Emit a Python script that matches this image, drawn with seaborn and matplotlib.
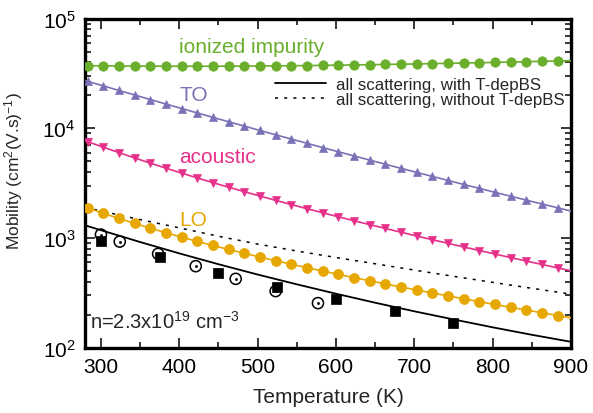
import numpy as np
import pandas as pd
import matplotlib
matplotlib.use("Agg")
import matplotlib.pyplot as plt
from matplotlib.lines import Line2D
from matplotlib.ticker import MultipleLocator, LogLocator, NullFormatter
import seaborn as sns

# ---------------- data ----------------
# temperatures of the model curves (line end points + marker positions)
T_curve = [280] + [283 + 20 * i for i in range(31)] + [900]

mu_ionized = [37200,
              37200, 37100, 37000, 36900, 36900, 36800, 36800, 36800, 36800, 36900,
              36900, 37000, 37100, 37200, 37300, 37500, 37600, 37800, 38000, 38200,
              38400, 38600, 38900, 39100, 39400, 39600, 39900, 40200, 40500, 40800,
              41100,
              41300]
mu_TO = [27200,
         26820, 24350, 22120, 20110, 18280, 16630, 15140, 13790, 12570, 11460,
         10460, 9546, 8720, 7970, 7289, 6668, 6105, 5592, 5123, 4699,
         4311, 3958, 3636, 3342, 3073, 2828, 2603, 2398, 2210, 2037,
         1880,
         1756]
mu_acoustic = [7680,
               7546, 6718, 5993, 5362, 4807, 4323, 3898, 3523, 3190, 2899,
               2640, 2408, 2200, 2014, 1846, 1694, 1557, 1434, 1321, 1219,
               1126, 1040, 963, 892, 826, 767, 712, 661, 615, 572,
               532,
               501]
mu_LO = [1909,
         1877, 1676, 1503, 1355, 1226, 1114, 1015, 928.9, 852.2, 784.1,
         723.3, 668.3, 619.3, 574.9, 534.6, 498.1, 464.5, 434.0, 406.1, 380.3,
         356.6, 334.7, 314.5, 295.6, 278.2, 261.9, 246.9, 232.8, 219.6, 207.4,
         195.7,
         186.4]

T_total = [280, 300, 350, 400, 450, 500, 550, 600, 650, 700, 750, 800, 850, 900]
mu_total_T = [1300, 1175, 916.6, 722.1, 575.1, 463.0, 377.0, 309.5, 256.2, 213.9,
              180.4, 152.8, 130.6, 112.7]
mu_total_noT = [1897, 1759, 1468, 1235, 1035, 878.1, 759.0, 662.1, 580.6, 508.2,
                446.2, 392.9, 346.8, 306.8]

T_exp_sq = [300, 375, 450, 525, 600, 675, 750]
mu_exp_sq = [933, 667, 477, 355, 278, 215, 167]
T_exp_circ = [300, 324, 373, 421, 472, 523, 577]
mu_exp_circ = [1072, 925, 715, 552, 423, 327, 254]

labels = ["ionized impurity", "TO", "acoustic", "LO"]
legend_labels = ["all scattering, with T-depBS", "all scattering, without T-depBS"]

# ---------------- style ----------------
sns.set_style("ticks")
plt.rcParams["font.family"] = ["Liberation Sans", "DejaVu Sans"]
plt.rcParams["mathtext.fontset"] = "custom"
plt.rcParams["mathtext.rm"] = "Liberation Sans"
plt.rcParams["mathtext.it"] = "Liberation Sans:italic"
plt.rcParams["mathtext.default"] = "regular"

c_green = "#6aae2c"
c_purple = "#7a72b6"
c_pink = "#e6308a"
c_orange = "#e6a700"

fig = plt.figure(figsize=(5.93, 4.14), dpi=100)
ax = fig.add_axes([0.1438, 0.1582, 0.8191, 0.7944])

curves = [
    (mu_ionized, c_green, "o", 6.8),
    (mu_TO, c_purple, "^", 6.0),
    (mu_acoustic, c_pink, "v", 6.0),
    (mu_LO, c_orange, "o", 7.2),
]
for vals, col, mk, ms in curves:
    df = pd.DataFrame({"T": T_curve, "mu": vals})
    sns.lineplot(data=df, x="T", y="mu", ax=ax, color=col, lw=1.2,
                 marker=mk, markersize=ms, markeredgecolor=col,
                 markeredgewidth=0.5, markevery=slice(1, -1), legend=False,
                 zorder=3)

df_tot = pd.DataFrame({"T": T_total, "with": mu_total_T, "without": mu_total_noT})
sns.lineplot(data=df_tot, x="T", y="with", ax=ax, color="black", lw=1.3,
             legend=False, zorder=2)
sns.lineplot(data=df_tot, x="T", y="without", ax=ax, color="black", lw=1.1,
             linestyle=(0, (2.0, 4.0)), legend=False, zorder=2)

sns.scatterplot(x=T_exp_sq, y=mu_exp_sq, ax=ax, marker="s", s=62,
                color="black", edgecolor="black", linewidth=0.5, zorder=4)
sns.scatterplot(x=T_exp_circ, y=mu_exp_circ, ax=ax, marker="o", s=64,
                facecolors="none", edgecolor="black", linewidth=1.1, zorder=4)
sns.scatterplot(x=T_exp_circ, y=mu_exp_circ, ax=ax, marker="o", s=3,
                color="black", edgecolor="black", linewidth=0.3, zorder=5)

ax.set_yscale("log")
ax.set_xlim(280, 900)
ax.set_ylim(100, 1e5)

ax.xaxis.set_major_locator(MultipleLocator(100))
ax.xaxis.set_minor_locator(MultipleLocator(50))
ax.yaxis.set_major_locator(LogLocator(base=10))
ax.yaxis.set_minor_locator(LogLocator(base=10, subs=np.arange(2, 10)))
ax.yaxis.set_minor_formatter(NullFormatter())

ax.tick_params(which="both", direction="in", top=True, right=True,
               labelsize=15, colors="black", width=1.1)
ax.tick_params(which="major", length=7, pad=7)
ax.tick_params(which="minor", length=4)
for sp in ax.spines.values():
    sp.set_visible(True)
    sp.set_linewidth(2.4)
    sp.set_color("black")

ax.set_xlabel("Temperature (K)", fontsize=15, labelpad=8)
ax.set_ylabel("Mobility (cm$^{2}$(V.s)$^{-1}$)", fontsize=12.5)
ax.yaxis.set_label_coords(-0.124, 0.54)

ax.text(400, 5.62e4, labels[0], color=c_green, fontsize=15, ha="left", va="center")
ax.text(400, 2.05e4, labels[1], color=c_purple, fontsize=15, ha="left", va="center")
ax.text(400, 5.47e3, labels[2], color=c_pink, fontsize=15, ha="left", va="center")
ax.text(400, 1.46e3, labels[3], color=c_orange, fontsize=15, ha="left", va="center")
ax.text(0.01, 0.08, "n=2.3x10$^{19}$ cm$^{-3}$", transform=ax.transAxes,
        fontsize=14.5, ha="left", va="center")

handles = [Line2D([], [], color="black", lw=1.3),
           Line2D([], [], color="black", lw=1.1, linestyle=(0, (2.0, 4.0)))]
ax.legend(handles, legend_labels, loc="upper right", bbox_to_anchor=(0.988, 0.822),
          frameon=False, fontsize=12.2, handlelength=3.0, handletextpad=0.6,
          labelspacing=-0.03, borderaxespad=0.0, borderpad=0.0)

fig.savefig("out.png", dpi=100)
